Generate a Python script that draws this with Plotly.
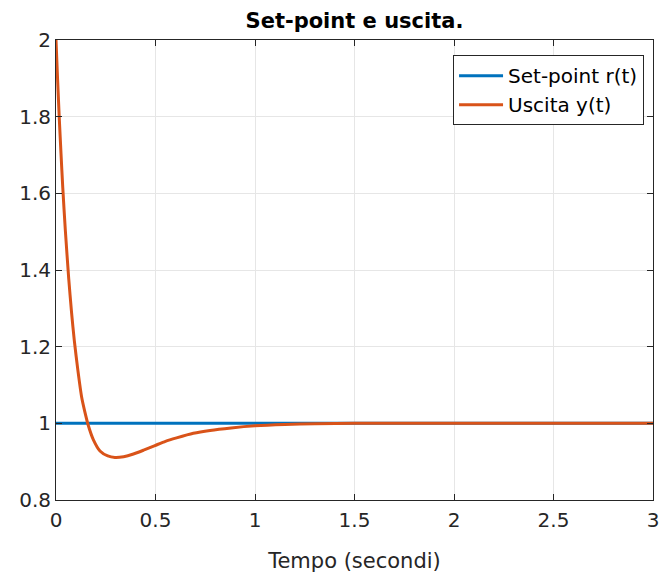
import plotly.graph_objects as go

# Time samples (s) and closed-loop output y(t)
t_out = [0.0, 0.008, 0.017, 0.025, 0.034, 0.047, 0.064, 0.078, 0.092, 0.110,
         0.129, 0.145, 0.162, 0.188, 0.221, 0.260, 0.296, 0.340, 0.389, 0.440,
         0.497, 0.550, 0.606, 0.690, 0.774, 0.880, 1.000, 1.150, 1.300, 1.500,
         2.000, 2.500, 3.000]
y_out = [2.000, 1.897, 1.790, 1.705, 1.615, 1.503, 1.377, 1.290, 1.216, 1.138,
         1.068, 1.030, 0.995, 0.957, 0.928, 0.915, 0.911, 0.913, 0.920, 0.930,
         0.942, 0.953, 0.962, 0.974, 0.9815, 0.988, 0.9935, 0.997, 0.999, 1.000,
         1.000, 1.000, 1.000]

# Constant set-point
t_ref = [0.0, 3.0]
r_ref = [1.0, 1.0]

x_ticks = [0, 0.5, 1, 1.5, 2, 2.5, 3]
y_ticks = [0.8, 1.0, 1.2, 1.4, 1.6, 1.8, 2.0]

FONT = "DejaVu Sans"
AX = "#262626"

fig = go.Figure()
fig.add_trace(go.Scatter(x=t_ref, y=r_ref, mode="lines", name="Set-point r(t)",
                         line=dict(color="#0072BD", width=3)))
fig.add_trace(go.Scatter(x=t_out, y=y_out, mode="lines", name="Uscita y(t)",
                         line=dict(color="#D95319", width=3,
                                   shape="spline", smoothing=0.6)))

axis_common = dict(
    showgrid=True, gridcolor="#e6e6e6", gridwidth=1,
    showline=True, linecolor=AX, linewidth=1, mirror="ticks",
    ticks="inside", ticklen=6, tickcolor=AX, tickwidth=1,
    zeroline=False, automargin=False,
    tickfont=dict(family=FONT, size=20, color=AX),
)

fig.update_xaxes(range=[0, 3], tickvals=x_ticks,
                 ticktext=[f"{v:g}" for v in x_ticks],
                 ticklabelstandoff=2,
                 title=dict(text="Tempo (secondi)",
                            font=dict(family=FONT, size=21, color=AX),
                            standoff=22),
                 **axis_common)
fig.update_yaxes(range=[0.8, 2], tickvals=y_ticks,
                 ticktext=[f"{v:g}" for v in y_ticks],
                 **axis_common)

fig.update_layout(
    width=664, height=577,
    margin=dict(l=56, r=11, t=40, b=77, autoexpand=False),
    paper_bgcolor="white", plot_bgcolor="white",
    title=dict(text="<b>Set-point e uscita.</b>",
               font=dict(family=FONT, size=21, color="black"),
               x=0.5, xref="paper", xanchor="center",
               y=1 - 20.5 / 577, yref="container", yanchor="middle"),
    legend=dict(x=0.985, y=0.967, xanchor="right", yanchor="top",
                bgcolor="white", bordercolor=AX, borderwidth=1,
                font=dict(family=FONT, size=20, color="black"),
                itemwidth=44, tracegroupgap=0),
    showlegend=True,
)

fig.write_html("out.html")
